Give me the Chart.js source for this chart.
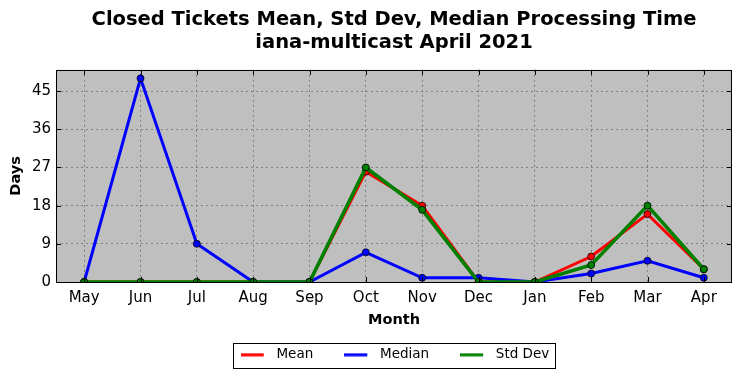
<!DOCTYPE html>
<html>
<head>
<meta charset="utf-8">
<script src="https://cdn.jsdelivr.net/npm/chart.js@4"></script>
<style>
html,body{margin:0;padding:0;background:#fff;}
#wrap{width:742px;height:378px;position:relative;}
</style>
</head>
<body>
<div id="wrap"><canvas id="c" width="742" height="378"></canvas></div>
<script>
const titleLines = ['Closed Tickets Mean, Std Dev, Median Processing Time', 'iana-multicast April 2021'];
const months = ['May','Jun','Jul','Aug','Sep','Oct','Nov','Dec','Jan','Feb','Mar','Apr'];
const meanDays = [0,0,0,0,0,26,18,0,0,6,16,3];
const medianDays = [0,48,9,0,0,7,1,1,0,2,5,1];
const stdDevDays = [0,0,0,0,0,27,17,0,0,4,18,3];
const yTicks = [0,9,18,27,36,45];
const yMax = 50;

const FONT = "'DejaVu Sans', sans-serif";
const LEGEND_CENTER_Y = 355;

function legendSwatch(color) {
  const c = document.createElement('canvas');
  c.width = 29; c.height = 4;
  const g = c.getContext('2d');
  g.fillStyle = color;
  g.fillRect(0, 0.5, 23, 3);
  return c;
}

const framePlugin = {
  id: 'frame',
  afterInit(chart) {
    const lg = chart.legend;
    if (lg) {
      const f = lg.fit;
      lg.fit = function () { f.call(this); this.height = 42; };
    }
  },
  afterLayout(chart) {
    const a = chart.chartArea;
    const t = chart.titleBlock;
    if (t) { t.left = a.left; t.right = a.right; }
    const lg = chart.legend;
    if (lg) {
      const h = lg.height;
      lg.left = a.left + 1; lg.right = a.right + 1;
      lg.top = LEGEND_CENTER_Y - 31 - 7;
      lg.bottom = lg.top + h;
    }
  },
  beforeDraw(chart) {
    const a = chart.chartArea, ctx = chart.ctx;
    ctx.save();
    ctx.fillStyle = '#bfbfbf';
    ctx.fillRect(a.left, a.top, a.right - a.left, a.bottom - a.top);
    ctx.restore();
  },
  afterDatasetsDraw(chart) {
    const a = chart.chartArea, ctx = chart.ctx;
    const xs = chart.scales.x, ys = chart.scales.y;
    ctx.save();
    ctx.strokeStyle = '#000';
    ctx.lineWidth = 1;
    ctx.strokeRect(Math.round(a.left) + 0.5, Math.round(a.top) + 0.5, Math.round(a.right - a.left) - 1, Math.round(a.bottom - a.top));
    ctx.beginPath();
    const L = 5;
    xs.ticks.forEach((t, i) => {
      const x = Math.round(xs.getPixelForTick(i)) + 0.5;
      ctx.moveTo(x, a.bottom); ctx.lineTo(x, a.bottom - L);
      ctx.moveTo(x, a.top); ctx.lineTo(x, a.top + L);
    });
    ys.ticks.forEach((t) => {
      const y = Math.round(ys.getPixelForValue(t.value)) + 0.5;
      ctx.moveTo(a.left, y); ctx.lineTo(a.left + L, y);
      ctx.moveTo(a.right, y); ctx.lineTo(a.right - L, y);
    });
    ctx.stroke();
    ctx.restore();
  },
  afterDraw(chart) {
    const lg = chart.legend;
    if (!lg || !lg.legendHitBoxes || !lg.legendHitBoxes.length) return;
    const hb = lg.legendHitBoxes;
    let l = Infinity, r = -Infinity, t = Infinity, b = -Infinity;
    hb.forEach(h => { l = Math.min(l, h.left); r = Math.max(r, h.left + h.width); t = Math.min(t, h.top); b = Math.max(b, h.top + h.height); });
    const ctx = chart.ctx;
    ctx.save();
    ctx.strokeStyle = '#000';
    ctx.lineWidth = 1;
    const cy = (t + b) / 2;
    ctx.strokeRect(Math.round(l - 8) + 0.5, Math.round(cy - 12) + 0.5, Math.round(r - l + 13), 25);
    ctx.restore();
  }
};

function ds(label, data, color, order, width) {
  return {
    label, data,
    borderColor: color,
    backgroundColor: color,
    borderWidth: width,
    pointRadius: 3.5,
    pointHoverRadius: 3.5,
    pointBackgroundColor: color,
    pointBorderColor: '#000',
    pointBorderWidth: 0.8,
    tension: 0,
    fill: false,
    clip: 0,
    order
  };
}

new Chart(document.getElementById('c'), {
  type: 'line',
  data: {
    labels: months,
    datasets: [
      ds('Mean', meanDays, '#ff0000', 2, 3),
      ds('Median', medianDays, '#0000ff', 1, 3),
      ds('Std Dev', stdDevDays, '#008000', 0, 3.6)
    ]
  },
  plugins: [framePlugin],
  options: {
    responsive: false,
    animation: false,
    devicePixelRatio: 1,
    layout: { padding: { left: 8, right: 10, top: 9, bottom: 7 } },
    plugins: {
      tooltip: { enabled: false },
      title: {
        display: true,
        text: titleLines,
        color: '#000',
        font: { family: FONT, size: 19.5, weight: 'bold', lineHeight: 1.15 },
        padding: { top: 0, bottom: 16 }
      },
      legend: {
        display: true,
        position: 'bottom',
        labels: {
          color: '#000',
          font: { family: FONT, size: 13.5 },
          usePointStyle: true,
          pointStyleWidth: 29,
          boxHeight: 13,
          padding: 31,
          generateLabels(chart) {
            return chart.data.datasets.map((d, i) => ({
              text: d.label, datasetIndex: i, fillStyle: d.borderColor, strokeStyle: d.borderColor,
              lineWidth: 0, pointStyle: legendSwatch(d.borderColor), hidden: false, fontColor: '#000'
            }));
          }
        }
      }
    },
    scales: {
      x: {
        offset: true,
        grid: { display: true, offset: false, color: '#808080', lineWidth: 1, drawTicks: false },
        border: { display: false, dash: [2,3] },
        ticks: { color: '#000', font: { family: FONT, size: 15 }, padding: 7, maxRotation: 0, autoSkip: false },
        title: { display: true, text: 'Month', color: '#000', font: { family: FONT, size: 14.5, weight: 'bold' }, padding: { top: 2, bottom: 0 } },
        afterFit(s) { s.height = 47; }
      },
      y: {
        min: 0, max: yMax,
        grid: { display: true, color: '#808080', lineWidth: 1, drawTicks: false },
        border: { display: false, dash: [2,3] },
        ticks: { color: '#000', font: { family: FONT, size: 15 }, padding: 5 },
        afterBuildTicks(s) { s.ticks = yTicks.map(v => ({ value: v })); },
        title: { display: true, text: 'Days', color: '#000', font: { family: FONT, size: 14.5, weight: 'bold', lineHeight: 1.2 }, padding: { top: 0, bottom: 0 } },
        afterFit(s) { s.width = 48; }
      }
    }
  }
});
</script>
</body>
</html>
